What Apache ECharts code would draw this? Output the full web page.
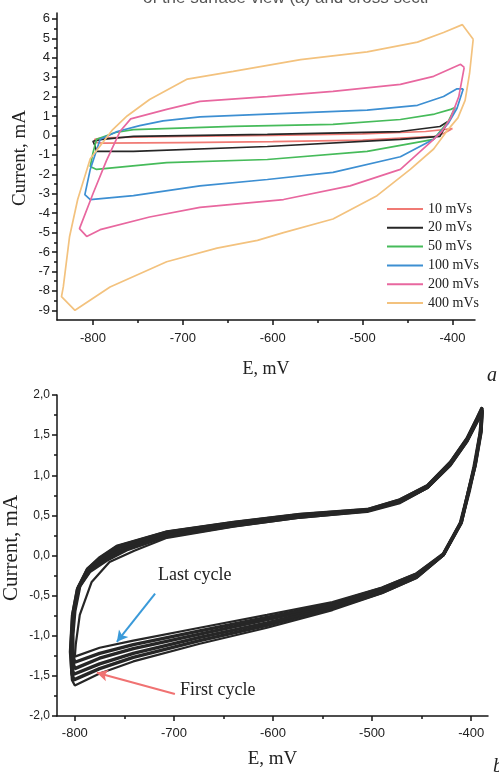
<!DOCTYPE html>
<html>
<head>
<meta charset="utf-8">
<script src="https://cdn.jsdelivr.net/npm/echarts@6/dist/echarts.min.js"></script>
<style>
html,body{margin:0;padding:0;background:#fff;}
#c{width:499px;height:774px;}
</style>
</head>
<body>
<div id="c"></div>
<script>
// ---------- Panel (a): CV loops at different scan rates [E (mV), I (mA)] ----------
var legendNames = ['10 mVs', '20 mVs', '50 mVs', '100 mVs', '200 mVs', '400 mVs'];
var cv10 = [[-400,0.35],[-410,0.1],[-420,-0.05],[-500,-0.24],[-600,-0.32],[-700,-0.37],[-790,-0.4],[-797,-0.36],[-798,-0.2],[-790,-0.12],[-700,-0.05],[-600,0.0],[-500,0.08],[-430,0.2],[-400,0.35]];
var cv20 = [[-405,0.72],[-410,0.3],[-414,-0.05],[-458,-0.2],[-606,-0.57],[-755,-0.82],[-796,-0.82],[-798,-0.5],[-800,-0.3],[-790,-0.2],[-755,-0.05],[-606,0.05],[-458,0.2],[-414,0.46],[-405,0.72]];
var cv50 = [[-397,1.44],[-405,0.7],[-421,-0.2],[-495,-0.82],[-606,-1.24],[-718,-1.4],[-796,-1.75],[-803,-1.6],[-800,-0.9],[-796,-0.2],[-775,0.15],[-755,0.3],[-644,0.46],[-533,0.57],[-458,0.82],[-420,1.1],[-402,1.34],[-397,1.44]];
var cv100 = [[-388,2.4],[-395,1.4],[-405,0.6],[-421,-0.2],[-458,-1.1],[-533,-1.9],[-606,-2.27],[-681,-2.6],[-755,-3.1],[-803,-3.3],[-809,-3.05],[-803,-1.75],[-792,-0.2],[-773,0.2],[-748,0.5],[-722,0.75],[-681,0.95],[-606,1.1],[-495,1.3],[-439,1.55],[-410,2.0],[-395,2.4],[-388,2.4]];
var cv200 = [[-387,3.5],[-393,2.0],[-402,0.9],[-412,0.2],[-421,-0.2],[-458,-1.75],[-514,-2.6],[-588,-3.3],[-681,-3.7],[-737,-4.2],[-792,-4.85],[-807,-5.2],[-815,-4.8],[-800,-3.0],[-785,-1.3],[-770,0.2],[-758,0.85],[-718,1.34],[-681,1.75],[-606,2.0],[-533,2.27],[-458,2.63],[-421,3.04],[-391,3.66],[-387,3.5]];
var cv400 = [[-377,4.95],[-381,3.2],[-386,1.8],[-394,0.9],[-405,0.3],[-421,-0.7],[-447,-1.75],[-484,-3.1],[-533,-4.3],[-588,-5.0],[-617,-5.4],[-662,-5.8],[-718,-6.5],[-781,-7.8],[-820,-9.0],[-835,-8.3],[-833,-7.8],[-826,-5.2],[-817,-3.3],[-803,-1.2],[-778,0.3],[-762,1.0],[-737,1.85],[-695,2.9],[-644,3.3],[-569,3.9],[-495,4.3],[-439,4.8],[-410,5.3],[-389,5.7],[-377,4.95]];
var colorsA = ['#f07a74', '#262626', '#46bb5a', '#3d8fd2', '#e8679f', '#f3c27e'];
var ticksAx = [-800, -700, -600, -500, -400];
var minorAx = [-750, -650, -550, -450];
var ticksAy = [-9,-8,-7,-6,-5,-4,-3,-2,-1,0,1,2,3,4,5,6];
var minorAy = [-8.5,-7.5,-6.5,-5.5,-4.5,-3.5,-2.5,-1.5,-0.5,0.5,1.5,2.5,3.5,4.5,5.5];

// ---------- Panel (b): repeated cycles, first to last ----------
var cycleFirst = [[-389,1.85],[-390,1.6],[-396,1.15],[-402,0.8],[-410,0.42],[-428,0.0],[-455,-0.28],[-490,-0.47],[-540,-0.68],[-606,-0.9],[-674,-1.1],[-741,-1.32],[-775,-1.47],[-800,-1.62],[-803,-1.55],[-805,-1.2],[-803,-0.75],[-798,-0.42],[-788,-0.17],[-775,-0.02],[-758,0.12],[-707,0.3],[-640,0.42],[-573,0.52],[-505,0.58],[-472,0.7],[-444,0.88],[-421,1.17],[-404,1.47],[-394,1.72],[-389,1.85]];
var cycle2 = [[-389,1.84],[-390,1.58],[-396,1.14],[-402,0.8],[-410,0.42],[-428,0.01],[-455,-0.27],[-490,-0.46],[-540,-0.66],[-606,-0.87],[-674,-1.06],[-741,-1.27],[-775,-1.41],[-801,-1.55],[-803,-1.47],[-804,-1.15],[-802,-0.73],[-797,-0.41],[-787,-0.17],[-774,-0.03],[-757,0.11],[-707,0.29],[-640,0.41],[-573,0.51],[-505,0.57],[-472,0.69],[-444,0.87],[-421,1.16],[-404,1.46],[-394,1.71],[-389,1.84]];
var cycle3 = [[-389,1.82],[-390,1.56],[-396,1.13],[-403,0.79],[-410,0.41],[-428,0.01],[-455,-0.26],[-490,-0.44],[-540,-0.64],[-606,-0.84],[-674,-1.02],[-741,-1.22],[-775,-1.35],[-801,-1.48],[-803,-1.4],[-803,-1.08],[-801,-0.71],[-796,-0.4],[-786,-0.18],[-772,-0.04],[-755,0.1],[-707,0.27],[-640,0.4],[-573,0.5],[-505,0.56],[-472,0.68],[-444,0.86],[-421,1.15],[-404,1.45],[-394,1.7],[-389,1.82]];
var cycle4 = [[-389,1.81],[-390,1.54],[-396,1.12],[-403,0.78],[-410,0.41],[-428,0.01],[-455,-0.24],[-490,-0.43],[-540,-0.62],[-606,-0.8],[-674,-0.98],[-741,-1.16],[-775,-1.28],[-800,-1.41],[-802,-1.33],[-803,-1.02],[-801,-0.7],[-796,-0.39],[-785,-0.19],[-770,-0.05],[-752,0.08],[-707,0.25],[-640,0.38],[-573,0.49],[-505,0.56],[-472,0.67],[-444,0.85],[-421,1.14],[-404,1.44],[-394,1.68],[-389,1.81]];
var cycle5 = [[-389,1.8],[-391,1.52],[-397,1.11],[-403,0.78],[-411,0.4],[-428,0.02],[-455,-0.23],[-490,-0.41],[-540,-0.6],[-606,-0.77],[-674,-0.94],[-741,-1.11],[-775,-1.22],[-800,-1.33],[-802,-1.25],[-802,-0.98],[-800,-0.69],[-795,-0.38],[-785,-0.2],[-768,-0.06],[-748,0.07],[-707,0.24],[-640,0.37],[-573,0.48],[-505,0.55],[-472,0.66],[-444,0.85],[-421,1.13],[-404,1.43],[-394,1.67],[-389,1.8]];
var cycleLast = [[-389,1.78],[-391,1.5],[-397,1.1],[-403,0.78],[-411,0.4],[-428,0.02],[-455,-0.22],[-490,-0.4],[-540,-0.58],[-606,-0.74],[-674,-0.9],[-741,-1.06],[-775,-1.15],[-800,-1.26],[-799,-1.1],[-795,-0.74],[-783,-0.33],[-765,-0.08],[-740,0.06],[-707,0.22],[-640,0.36],[-573,0.47],[-505,0.55],[-472,0.66],[-444,0.84],[-421,1.12],[-404,1.42],[-394,1.66],[-389,1.78]];
var ticksBx = [-800, -700, -600, -500, -400];
var minorBx = [-750, -650, -550, -450];
var arrowLast = [[-719, -0.475], [-757.6, -1.075]];
var arrowFirst = [[-699, -1.725], [-777.8, -1.46]];

var SANS = '"Liberation Sans", Arial, sans-serif';
var SERIF = '"Liberation Serif", "Times New Roman", serif';
var axisLineStyle = {color: '#151515', width: 1.5};

var chart = echarts.init(document.getElementById('c'), null, {renderer: 'canvas'});

function loopSeries(name, data, color) {
  return {
    name: name, type: 'line', xAxisIndex: 0, yAxisIndex: 0,
    data: data, showSymbol: false, symbol: 'none', smooth: false,
    lineStyle: {color: color, width: 1.7}, itemStyle: {color: color},
    animation: false, silent: true
  };
}
function cycleSeries(name, data, w) {
  return {
    name: name, type: 'line', xAxisIndex: 1, yAxisIndex: 1,
    data: data, showSymbol: false, symbol: 'none', smooth: false,
    lineStyle: {color: '#262626', width: w}, animation: false, silent: true
  };
}

var seriesA = [cv10, cv20, cv50, cv100, cv200, cv400].map(function (d, i) {
  return loopSeries(legendNames[i], d, colorsA[i]);
});
var seriesB = [
  cycleSeries('cycle 1', cycleFirst, 2.2),
  cycleSeries('cycle 2', cycle2, 3.4),
  cycleSeries('cycle 3', cycle3, 3.4),
  cycleSeries('cycle 4', cycle4, 3.4),
  cycleSeries('cycle 5', cycle5, 3.4),
  cycleSeries('cycle last', cycleLast, 2.2)
];
seriesB[5].markLine = {
  silent: true, animation: false, symbolSize: [9, 11],
  label: {show: false},
  data: [
    [{coord: arrowLast[0], symbol: 'none', lineStyle: {color: '#3a9ad9', width: 2, type: 'solid'}},
     {coord: arrowLast[1], symbol: 'arrow'}],
    [{coord: arrowFirst[0], symbol: 'none', lineStyle: {color: '#f07272', width: 2, type: 'solid'}},
     {coord: arrowFirst[1], symbol: 'arrow'}]
  ]
};

var option = {
  backgroundColor: '#ffffff',
  animation: false,
  grid: [
    {left: 57, top: 13, width: 418, height: 307, containLabel: false, outerBoundsMode: 'none'},
    {left: 57, top: 395, width: 431, height: 321, containLabel: false, outerBoundsMode: 'none'}
  ],
  legend: {
    data: legendNames, orient: 'vertical', left: 382, top: 197,
    icon: 'rect', itemWidth: 36, itemHeight: 2, itemGap: 4.8,
    textStyle: {fontFamily: SERIF, fontSize: 14, color: '#222', lineHeight: 14},
    selectedMode: false
  },
  xAxis: [
    {gridIndex: 0, type: 'value', min: -840, max: -375, position: 'bottom',
     axisLine: {show: true, onZero: false, lineStyle: axisLineStyle},
     axisTick: {show: true, inside: false, length: 5, customValues: ticksAx, lineStyle: axisLineStyle},
     axisLabel: {customValues: ticksAx, fontFamily: SANS, fontSize: 13, color: '#222', margin: 12},
     splitLine: {show: false},
     name: 'E, mV', nameLocation: 'middle', nameGap: 40,
     nameTextStyle: {fontFamily: SERIF, fontSize: 18, color: '#222'}},
    {gridIndex: 1, type: 'value', min: -818, max: -383, position: 'bottom',
     axisLine: {show: true, onZero: false, lineStyle: axisLineStyle},
     axisTick: {show: true, inside: false, length: 5, customValues: ticksBx, lineStyle: axisLineStyle},
     axisLabel: {customValues: ticksBx, fontFamily: SANS, fontSize: 13, color: '#222', margin: 11},
     splitLine: {show: false},
     name: 'E, mV', nameLocation: 'middle', nameGap: 34,
     nameTextStyle: {fontFamily: SERIF, fontSize: 19, color: '#222'}},
    {gridIndex: 0, type: 'value', min: -840, max: -375, position: 'bottom',
     axisLine: {show: false, onZero: false},
     axisTick: {show: true, inside: false, length: 3, customValues: minorAx, lineStyle: axisLineStyle},
     axisLabel: {show: false}, splitLine: {show: false}},
    {gridIndex: 1, type: 'value', min: -818, max: -383, position: 'bottom',
     axisLine: {show: false, onZero: false},
     axisTick: {show: true, inside: false, length: 3, customValues: minorBx, lineStyle: axisLineStyle},
     axisLabel: {show: false}, splitLine: {show: false}}
  ],
  yAxis: [
    {gridIndex: 0, type: 'value', min: -9.5, max: 6.3, position: 'left',
     axisLine: {show: true, onZero: false, lineStyle: axisLineStyle},
     axisTick: {show: true, inside: false, length: 5, customValues: ticksAy, lineStyle: axisLineStyle},
     axisLabel: {customValues: ticksAy, fontFamily: SANS, fontSize: 13, color: '#222', margin: 7},
     splitLine: {show: false}},
    {gridIndex: 1, type: 'value', min: -2, max: 2, interval: 0.5, position: 'left',
     axisLine: {show: true, onZero: false, lineStyle: axisLineStyle},
     axisTick: {show: true, inside: false, length: 5, lineStyle: axisLineStyle},
     minorTick: {show: true, splitNumber: 2, length: 3, lineStyle: axisLineStyle},
     axisLabel: {fontFamily: SANS, fontSize: 12, color: '#222', margin: 7,
       formatter: function (v) { return v.toFixed(1).replace('.', ','); }},
     splitLine: {show: false}, minorSplitLine: {show: false}},
    {gridIndex: 0, type: 'value', min: -9.5, max: 6.3, position: 'left',
     axisLine: {show: false, onZero: false},
     axisTick: {show: true, inside: false, length: 3, customValues: minorAy, lineStyle: axisLineStyle},
     axisLabel: {show: false}, splitLine: {show: false}}
  ],
  series: seriesA.concat(seriesB),
  graphic: [
    {type: 'text', left: 143, top: -10, silent: true,
     style: {text: 'of the surface view (a) and cross secti', font: '17px "Liberation Sans"', fill: '#555'}},
    {type: 'text', x: 20, y: 158, rotation: Math.PI / 2, silent: true,
     style: {text: 'Current, mA', font: '19px "Liberation Serif"', fill: '#222', align: 'center', verticalAlign: 'middle'}},
    {type: 'text', x: 11, y: 548, rotation: Math.PI / 2, silent: true,
     style: {text: 'Current, mA', font: '21px "Liberation Serif"', fill: '#222', align: 'center', verticalAlign: 'middle'}},
    {type: 'text', left: 158, top: 566, silent: true,
     style: {text: 'Last cycle', font: '18px "Liberation Serif"', fill: '#222'}},
    {type: 'text', left: 180, top: 681, silent: true,
     style: {text: 'First cycle', font: '18px "Liberation Serif"', fill: '#222'}},
    {type: 'text', left: 487, top: 366, silent: true,
     style: {text: 'a', font: 'italic 20px "Liberation Serif"', fill: '#222'}},
    {type: 'text', left: 493, top: 757, silent: true,
     style: {text: 'b', font: 'italic 20px "Liberation Serif"', fill: '#222'}}
  ]
};
chart.setOption(option);
</script>
</body>
</html>
